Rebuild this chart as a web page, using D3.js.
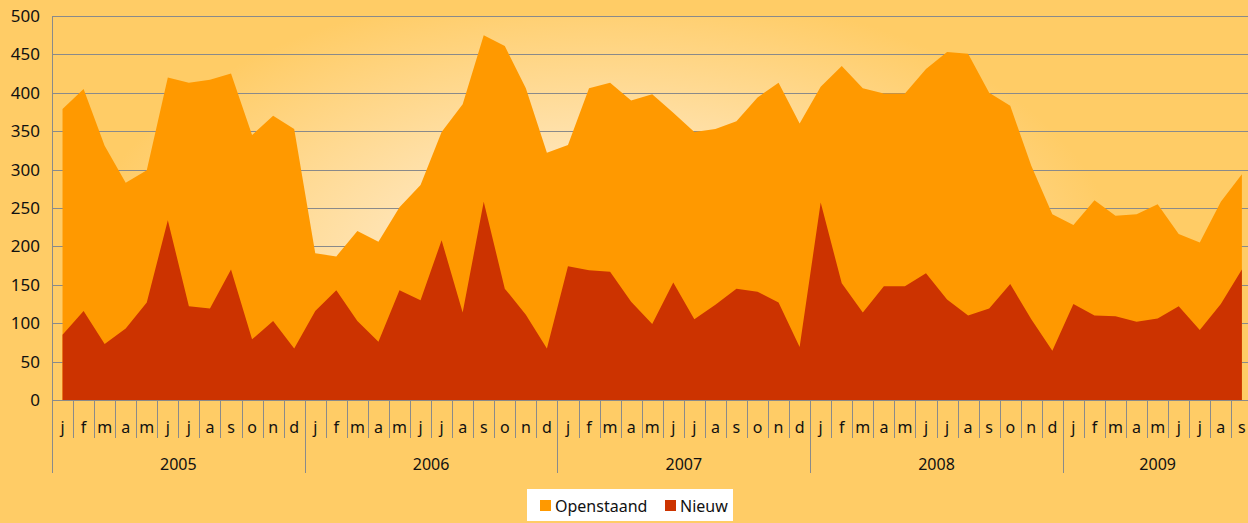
<!DOCTYPE html>
<meta charset="utf-8">
<head>
  <meta charset="utf-8">
  <title>Openstaand en Nieuw per maand</title>
</head>
<style>
body { margin: 0; background: #FFCC66; }
svg text { font-family: 'Noto Sans', sans-serif; fill: #111; }
.grid line { stroke: #8a8a8a; stroke-width: 1; }
.cat line { stroke: #8a8a8a; stroke-width: 1; }
</style>
<body>
<div class='chart'></div>

<script src="https://cdnjs.cloudflare.com/ajax/libs/d3/7.8.5/d3.min.js"></script>
<script>

// chart values
var years = ['2005', '2006', '2007', '2008', '2009']
var months = ['j', 'f', 'm', 'a', 'm', 'j', 'j', 'a', 's', 'o', 'n', 'd']
var yTicks = [0, 50, 100, 150, 200, 250, 300, 350, 400, 450, 500]

var openstaand = [
  379, 405, 331, 283, 299, 420, 413, 417, 425, 345, 370, 353,
  191, 187, 220, 206, 251, 280, 349, 385, 475, 461, 406, 322,
  332, 406, 413, 390, 398, 374, 349, 353, 363, 394, 413, 360,
  408, 435, 406, 399, 399, 431, 453, 451, 400, 383, 305, 242,
  228, 260, 240, 242, 255, 216, 205, 258, 294
]
var nieuw = [
  85, 116, 73, 93, 127, 234, 122, 119, 170, 79, 103, 67,
  116, 143, 103, 76, 143, 130, 208, 114, 258, 145, 111, 67,
  174, 169, 167, 128, 99, 153, 105, 124, 145, 141, 127, 69,
  257, 152, 114, 148, 148, 165, 131, 110, 119, 151, 105, 64,
  125, 110, 109, 102, 106, 122, 91, 125, 170
]

var width = 1248
var height = 523
var plotLeft = 52, plotTop = 16, plotBottom = 400

// one category per month, Jan 2005 .. Sep 2009
var cats = openstaand.map(function (d, i) {
  return { i: i, month: months[i % 12], year: years[Math.floor(i / 12)] }
})

var x = d3.scaleBand()
  .domain(cats.map(function (d) { return d.i }))
  .range([plotLeft, plotLeft + 21.06 * 57])

var y = d3.scaleLinear()
  .domain([0, 500])
  .range([plotBottom, plotTop])

var svg = d3.select('.chart')
  .append('svg')
  .attr('width', width)
  .attr('height', height)
  .style('display', 'block')

var defs = svg.append('defs')
var glow = defs.append('radialGradient')
  .attr('id', 'glow')
  .attr('gradientUnits', 'userSpaceOnUse')
  .attr('cx', 600).attr('cy', 270).attr('r', 520)
  .attr('gradientTransform', 'translate(600,270) scale(1,0.55) translate(-600,-270)')
glow.append('stop').attr('offset', '0%').attr('stop-color', '#FFFBF4')
glow.append('stop').attr('offset', '45%').attr('stop-color', '#FFE2AE')
glow.append('stop').attr('offset', '100%').attr('stop-color', '#FFCC66')

// plot area background
svg.append('rect')
  .attr('x', plotLeft).attr('y', plotTop)
  .attr('width', width - plotLeft).attr('height', plotBottom - plotTop)
  .attr('fill', 'url(#glow)')

// horizontal gridlines
svg.append('g')
  .attr('class', 'grid')
  .selectAll('line')
  .data(yTicks)
  .enter().append('line')
  .attr('x1', plotLeft).attr('x2', width)
  .attr('y1', function (d) { return Math.round(y(d)) + 0.5 })
  .attr('y2', function (d) { return Math.round(y(d)) + 0.5 })

function cx(d) { return x(d.i) + x.bandwidth() / 2 }

var areaOpen = d3.area()
  .x(cx)
  .y0(y(0))
  .y1(function (d) { return y(openstaand[d.i]) })

var areaNieuw = d3.area()
  .x(cx)
  .y0(y(0))
  .y1(function (d) { return y(nieuw[d.i]) })

svg.append('path')
  .datum(cats)
  .attr('d', areaOpen)
  .attr('fill', '#FF9900')

svg.append('path')
  .datum(cats)
  .attr('d', areaNieuw)
  .attr('fill', '#CC3300')

// y axis
svg.append('line')
  .attr('x1', plotLeft + 0.5).attr('x2', plotLeft + 0.5)
  .attr('y1', plotTop).attr('y2', plotBottom)
  .attr('stroke', '#8a8a8a')

svg.append('g')
  .selectAll('text')
  .data(yTicks)
  .enter().append('text')
  .attr('x', 40)
  .attr('y', function (d) { return y(d) + 6 })
  .attr('text-anchor', 'end')
  .style('font-size', '17px')
  .text(function (d) { return d })

// category axis: month cells, year cells
var catG = svg.append('g').attr('class', 'cat')

catG.selectAll('line.m')
  .data(d3.range(58))
  .enter().append('line')
  .attr('class', 'm')
  .attr('x1', function (i) { return Math.round(plotLeft + i * x.step()) + 0.5 })
  .attr('x2', function (i) { return Math.round(plotLeft + i * x.step()) + 0.5 })
  .attr('y1', plotBottom)
  .attr('y2', function (i) { return i % 12 === 0 ? 473 : 438 })

catG.selectAll('text.m')
  .data(cats)
  .enter().append('text')
  .attr('class', 'm')
  .attr('x', cx)
  .attr('y', 433)
  .attr('text-anchor', 'middle')
  .style('font-size', '16px')
  .text(function (d) { return d.month })

catG.selectAll('text.y')
  .data(years)
  .enter().append('text')
  .attr('class', 'y')
  .attr('x', function (d, k) {
    var n = Math.min(12, cats.length - k * 12)
    return plotLeft + (k * 12 + n / 2) * x.step()
  })
  .attr('y', 470)
  .attr('text-anchor', 'middle')
  .style('font-size', '16px')
  .text(function (d) { return d })

svg.append('line')
  .attr('x1', plotLeft).attr('x2', width)
  .attr('y1', plotBottom + 0.5).attr('y2', plotBottom + 0.5)
  .attr('stroke', '#8a8a8a')

// legend
var legend = svg.append('g')
legend.append('rect')
  .attr('x', 527).attr('y', 489)
  .attr('width', 206).attr('height', 32)
  .attr('fill', '#FFFFFF')

var items = [
  { name: 'Openstaand', color: '#FF9900', x: 540 },
  { name: 'Nieuw', color: '#CC3300', x: 665 }
]
var li = legend.selectAll('g.item')
  .data(items)
  .enter().append('g')
  .attr('class', 'item')
li.append('rect')
  .attr('x', function (d) { return d.x })
  .attr('y', 500)
  .attr('width', 11).attr('height', 11)
  .attr('fill', function (d) { return d.color })
li.append('text')
  .attr('x', function (d) { return d.x + 15 })
  .attr('y', 512)
  .style('font-size', '16px')
  .text(function (d) { return d.name })

</script>
</body>
